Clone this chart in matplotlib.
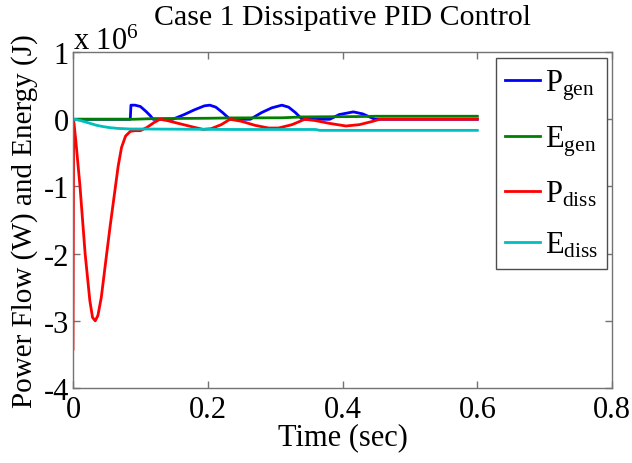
import numpy as np
import matplotlib
matplotlib.use('Agg')
import matplotlib.pyplot as plt

plt.rcParams['font.family'] = ['Liberation Serif', 'DejaVu Serif']
plt.rcParams['mathtext.fontset'] = 'custom'
plt.rcParams['mathtext.rm'] = 'Liberation Serif'
plt.rcParams['mathtext.it'] = 'Liberation Serif:italic'

# values in units of 1e6 (W or J)
t_pgen = [0, 0.085, 0.086, 0.092, 0.1, 0.108, 0.115, 0.119, 0.148, 0.165, 0.18, 0.195,
          0.203, 0.212, 0.222, 0.233, 0.263, 0.28, 0.295, 0.31, 0.32, 0.33, 0.34, 0.381,
          0.395, 0.416, 0.43, 0.448, 0.6]
p_gen = [0, 0, 0.21, 0.21, 0.19, 0.12, 0.05, 0, 0, 0.07, 0.14, 0.2,
         0.21, 0.18, 0.1, 0, 0, 0.1, 0.17, 0.21, 0.18, 0.1, 0, 0,
         0.07, 0.11, 0.08, 0, 0]

t_egen = [0, 0.09, 0.12, 0.2, 0.235, 0.31, 0.33, 0.34, 0.42, 0.45, 0.6]
e_gen = [0, 0, 0.01, 0.015, 0.02, 0.022, 0.03, 0.035, 0.04, 0.045, 0.045]

t_pdiss = [0, 0.001, 0.004, 0.0104, 0.018, 0.025, 0.029, 0.033, 0.037, 0.042, 0.05, 0.055,
           0.061, 0.067, 0.072, 0.078, 0.085, 0.092, 0.1, 0.11, 0.12, 0.129, 0.14, 0.16,
           0.18, 0.193, 0.205, 0.22, 0.233, 0.25, 0.27, 0.29, 0.305, 0.325, 0.344, 0.36,
           0.38, 0.405, 0.425, 0.445, 0.455, 0.6]
p_diss = [-3.42, -0.02, -0.3, -1.0, -2.0, -2.7, -2.95, -3.0, -2.92, -2.65, -2.0, -1.6,
          -1.15, -0.7, -0.42, -0.25, -0.18, -0.17, -0.17, -0.12, -0.05, 0.0, -0.02, -0.07,
          -0.12, -0.15, -0.14, -0.08, 0.0, -0.03, -0.09, -0.13, -0.13, -0.08, 0.0, -0.02,
          -0.06, -0.1, -0.08, -0.03, 0.0, 0.0]

t_ediss = [0, 0.005, 0.015, 0.025, 0.035, 0.045, 0.055, 0.065, 0.075, 0.085, 0.1, 0.2,
           0.24, 0.36, 0.366, 0.6]
e_diss = [0, -0.005, -0.03, -0.06, -0.09, -0.11, -0.125, -0.135, -0.14, -0.145, -0.145,
          -0.15, -0.152, -0.152, -0.165, -0.165]

fig = plt.figure(figsize=(6.32, 4.64), dpi=100)
ax = fig.add_axes([0.1155, 0.1616, 0.853, 0.724])

lw = 2.0
ax.plot(t_pgen, p_gen, color=(0, 0, 1), lw=lw, label=r'P$_{\mathrm{gen}}$')
ax.plot(t_egen, e_gen, color=(0, 0.5, 0), lw=lw, label=r'E$_{\mathrm{gen}}$')
ax.plot(t_pdiss, p_diss, color=(1, 0, 0), lw=lw, label=r'P$_{\mathrm{diss}}$')
ax.plot(t_ediss, e_diss, color=(0, 0.75, 0.75), lw=lw, label=r'E$_{\mathrm{diss}}$')

ax.set_xlim(0, 0.8)
ax.set_ylim(-4, 1)
ax.set_xticks([0, 0.2, 0.4, 0.6, 0.8])
ax.set_xticklabels(['0', '0.2', '0.4', '0.6', '0.8'])
ax.set_yticks([-4, -3, -2, -1, 0, 1])
ax.set_yticklabels(['-4', '-3', '-2', '-1', '0', '1'])

fs = 22
ax.tick_params(direction='in', top=True, right=True, length=5, width=1,
               color='0.45', labelsize=fs)
ax.tick_params(axis='x', pad=5)
ax.tick_params(axis='y', pad=3)
for s in ax.spines.values():
    s.set_color('0.45')
    s.set_linewidth(1)

ax.set_xlabel('Time (sec)', fontsize=fs, labelpad=-1)
ax.set_ylabel('Power Flow (W) and Energy (J)', fontsize=21, labelpad=4)
ax.set_title('Case 1 Dissipative PID Control', fontsize=21.5, pad=20)
ax.text(0.0, 1.01, r'x 10$^{6}$', transform=ax.transAxes, fontsize=22,
        ha='left', va='baseline')

leg = ax.legend(loc='upper right', bbox_to_anchor=(0.991, 0.982), borderaxespad=0,
                fontsize=fs, handlelength=1.15, handletextpad=0.15, labelspacing=0.7,
                borderpad=0.3, fancybox=False, framealpha=1)
leg.get_frame().set_edgecolor('0.3')
leg.get_frame().set_linewidth(1)

fig.savefig('out.png', dpi=100)
